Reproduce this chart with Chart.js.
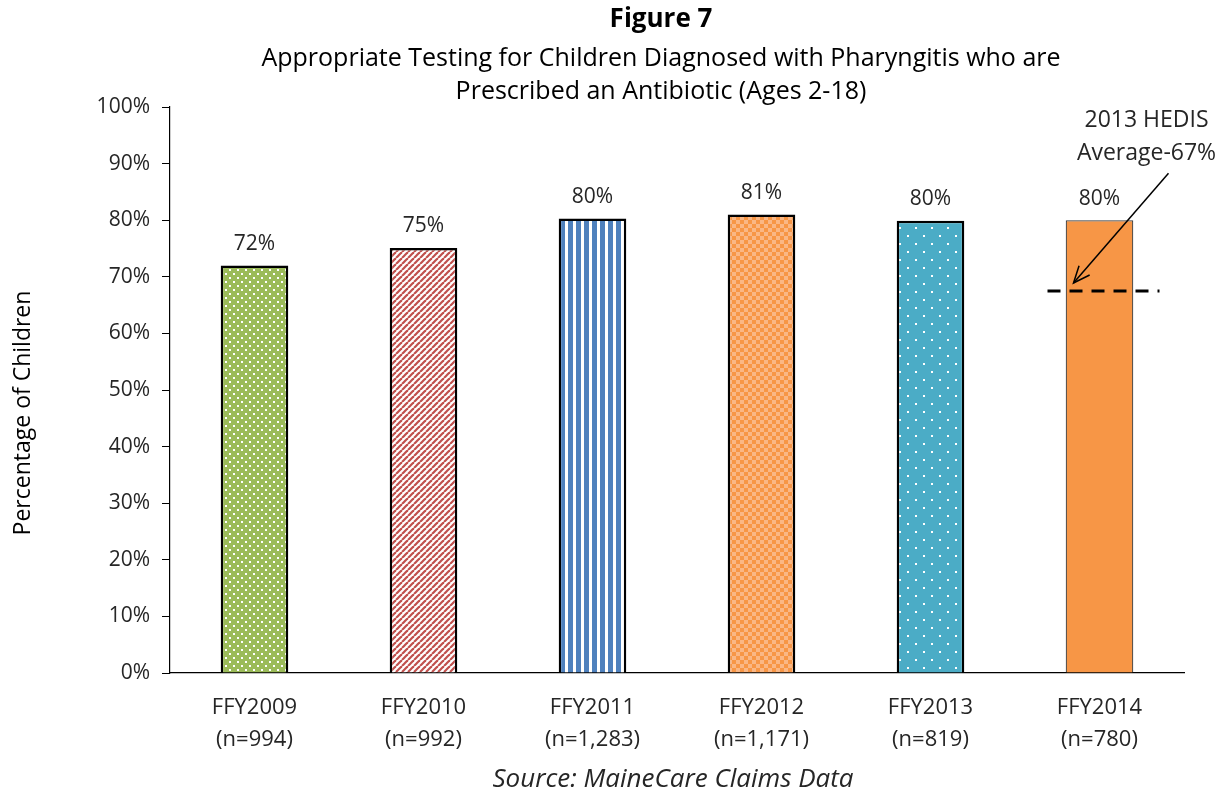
<!DOCTYPE html>
<html>
<head>
<meta charset="utf-8">
<script src="https://cdn.jsdelivr.net/npm/chart.js@4"></script>
<style>
  html, body { margin:0; padding:0; background:#fff; }
  #wrap { width:1228px; height:795px; position:relative; }
</style>
</head>
<body>
<div id="wrap"><canvas id="mainChart" width="1228" height="795"></canvas></div>
<script>
  const years = ['FFY2009','FFY2010','FFY2011','FFY2012','FFY2013','FFY2014'];
  const counts = ['(n=994)','(n=992)','(n=1,283)','(n=1,171)','(n=819)','(n=780)'];
  const rates = [72, 75.1, 80.3, 81, 79.9, 80];
  const rateLabels = ['72%','75%','80%','81%','80%','80%'];
  const hedisAvg = 67.5;
  const yTicks = [0,10,20,30,40,50,60,70,80,90,100];

  const FONT = '"Open Sans", sans-serif';

  // small canvas tiles for the fill patterns
  function tile(w, h, draw) {
    const c = document.createElement('canvas');
    c.width = w; c.height = h;
    draw(c.getContext('2d'));
    return document.createElement('canvas').getContext('2d').createPattern(c, 'repeat');
  }
  const patDots = tile(8, 8, g => {
    g.fillStyle = '#9bbb59'; g.fillRect(0,0,8,8);
    g.fillStyle = '#fff'; g.fillRect(1,1,2,2); g.fillRect(5,5,2,2);
  });
  const patDiag = tile(6, 6, g => {
    g.fillStyle = '#fff'; g.fillRect(0,0,6,6);
    g.strokeStyle = '#c0504d'; g.lineWidth = 2.2;
    for (let k = -6; k <= 12; k += 6) { g.beginPath(); g.moveTo(k, 6); g.lineTo(k + 6, 0); g.stroke(); }
  });
  const patVert = tile(8, 8, g => {
    g.fillStyle = '#fff'; g.fillRect(0,0,8,8);
    g.fillStyle = '#4f81bd'; g.fillRect(0,0,5,8);
  });
  const patCheck = tile(8, 8, g => {
    g.fillStyle = '#fff'; g.fillRect(0,0,8,8);
    g.fillStyle = '#f79646'; g.fillRect(0,0,4,4); g.fillRect(4,4,4,4);
    g.fillStyle = '#fab785'; g.fillRect(4,0,4,4); g.fillRect(0,4,4,4);
  });
  const patSparse = tile(16, 16, g => {
    g.fillStyle = '#4bacc6'; g.fillRect(0,0,16,16);
    g.fillStyle = '#fff'; g.fillRect(3,3,2,2); g.fillRect(11,11,2,2);
  });

  const decor = {
    id: 'decor',
    afterDatasetsDraw(chart) {
      const ctx = chart.ctx;
      const y = chart.scales.y;
      const meta = chart.getDatasetMeta(0);
      ctx.save();
      ctx.fillStyle = '#262626';
      ctx.textAlign = 'center';
      ctx.textBaseline = 'bottom';
      ctx.font = '21px ' + FONT;
      meta.data.forEach((bar, i) => ctx.fillText(rateLabels[i], bar.x, bar.y - 11));

      // HEDIS average dashed line
      const last = meta.data[meta.data.length - 1];
      const hy = y.getPixelForValue(hedisAvg);
      ctx.strokeStyle = '#000';
      ctx.lineWidth = 3;
      ctx.setLineDash([13, 9]);
      ctx.beginPath();
      ctx.moveTo(last.x - 52, hy);
      ctx.lineTo(last.x + 60, hy);
      ctx.stroke();
      ctx.setLineDash([]);

      // arrow and note
      const ax0 = last.x + 69, ay0 = y.getPixelForValue(88.3);
      const ax1 = last.x - 26, ay1 = hy - 8;
      ctx.lineWidth = 1.5;
      ctx.beginPath(); ctx.moveTo(ax0, ay0); ctx.lineTo(ax1, ay1); ctx.stroke();
      const ang = Math.atan2(ay1 - ay0, ax1 - ax0);
      ctx.beginPath();
      ctx.moveTo(ax1 + 18 * Math.cos(ang + Math.PI - 0.4), ay1 + 18 * Math.sin(ang + Math.PI - 0.4));
      ctx.lineTo(ax1, ay1);
      ctx.lineTo(ax1 + 18 * Math.cos(ang + Math.PI + 0.4), ay1 + 18 * Math.sin(ang + Math.PI + 0.4));
      ctx.stroke();
      ctx.textBaseline = 'middle';
      ctx.font = '23px ' + FONT;
      ctx.fillText('2013 HEDIS', last.x + 47, 120);
      ctx.fillText('Average-67%', last.x + 47, 153);

      // titles
      ctx.font = 'bold 26px ' + FONT;
      ctx.fillStyle = '#000';
      ctx.fillText('Figure 7', 661, 20);
      ctx.font = '25px ' + FONT;
      ctx.fillText('Appropriate Testing for Children Diagnosed with Pharyngitis who are', 661, 59);
      ctx.fillText('Prescribed an Antibiotic (Ages 2-18)', 661, 92);
      ctx.font = 'italic 26px ' + FONT;
      ctx.fillStyle = '#262626';
      ctx.fillText('Source: MaineCare Claims Data', 673, 780);

      // y axis title
      ctx.translate(23, 413);
      ctx.rotate(-Math.PI / 2);
      ctx.font = '23px ' + FONT;
      ctx.fillStyle = '#000';
      ctx.fillText('Percentage of Children', 0, 0);
      ctx.restore();
    }
  };

  new Chart(document.getElementById('mainChart').getContext('2d'), {
    type: 'bar',
    data: {
      labels: years.map((yr, i) => [yr, counts[i]]),
      datasets: [{
        data: rates,
        backgroundColor: [patDots, patDiag, patVert, patCheck, patSparse, '#f79646'],
        borderColor: ['#000','#000','#000','#000','#000','#3a3a3a'],
        borderWidth: [2.5,2.5,2.5,2.5,2.5,1.2],
        categoryPercentage: 1,
        barPercentage: 0.4
      }]
    },
    options: {
      responsive: false,
      animation: false,
      layout: { padding: { top: 107, right: 44, left: 0, bottom: 0 } },
      plugins: { legend: { display: false }, tooltip: { enabled: false } },
      scales: {
        x: {
          grid: { display: false, drawTicks: false },
          border: { color: '#000', width: 1.2 },
          ticks: { color: '#262626', font: { size: 22, family: FONT, lineHeight: 1.45 }, padding: 19, maxRotation: 0 },
          afterFit: s => { s.height = 122; }
        },
        y: {
          min: 0, max: 100,
          afterBuildTicks: s => { s.ticks = yTicks.map(v => ({ value: v })); },
          grid: { drawOnChartArea: false, drawTicks: true, tickLength: 8, tickColor: '#000' },
          border: { color: '#000', width: 1.2 },
          ticks: { color: '#262626', font: { size: 21, family: FONT }, padding: 12, callback: v => v + '%' },
          afterFit: s => { s.width = 170; }
        }
      }
    },
    plugins: [decor]
  });
</script>
</body>
</html>
